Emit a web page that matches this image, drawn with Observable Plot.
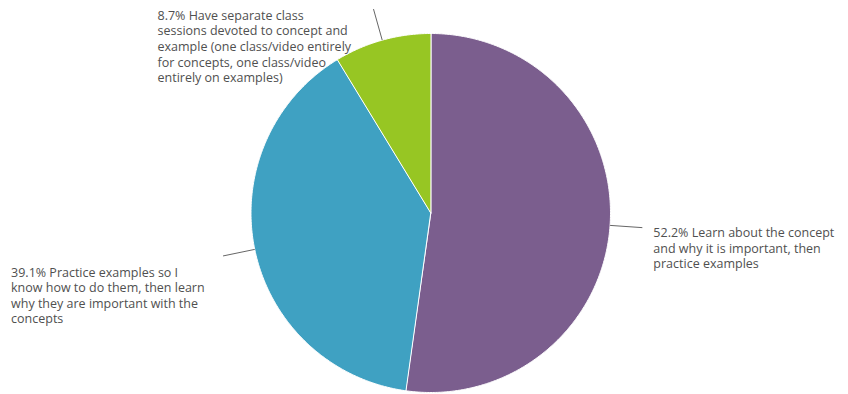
<!DOCTYPE html>
<html>
<head>
<meta charset="utf-8">
<script src="https://cdn.jsdelivr.net/npm/d3@7"></script>
<script src="https://cdn.jsdelivr.net/npm/@observablehq/plot@0.6"></script>
<style>
  body { margin: 0; background: #fff; }
</style>
</head>
<body>
<div id="chart"></div>
<script>
// Survey answers, clockwise from 12 o'clock
const keys = ["Concept first", "Examples first", "Separate sessions"];
const shares = [52.2, 39.1, 8.7];
const answers = [
  "Learn about the concept\nand why it is important, then\npractice examples",
  "Practice examples so I\nknow how to do them, then learn\nwhy they are important with the\nconcepts",
  "Have separate class\nsessions devoted to concept and\nexample (one class/video entirely\nfor concepts, one class/video\nentirely on examples)"
];
const colors = ["#7b5e8e", "#3fa1c2", "#97c623"];

const rows = keys.map((key, i) => ({key, share: shares[i], label: `${shares[i]}% ${answers[i]}`}));

// Slice angles (clockwise from top)
const arcs = d3.pie().sort(null).value(d => d.share)(rows);

// Closed outline of every slice: centre, then along the rim
const outline = arcs.flatMap(a => {
  const n = Math.max(2, Math.ceil((a.endAngle - a.startAngle) / (Math.PI / 360)));
  const pts = [{key: a.data.key, x: 0, y: 0}];
  for (let i = 0; i <= n; i++) {
    const t = a.startAngle + (a.endAngle - a.startAngle) * i / n;
    pts.push({key: a.data.key, x: Math.sin(t), y: Math.cos(t)});
  }
  return pts;
});

// Leader lines leave the rim at each slice's middle angle
const leaders = arcs.map(a => {
  const m = (a.startAngle + a.endAngle) / 2;
  return {
    key: a.data.key, label: a.data.label,
    x1: Math.sin(m), y1: Math.cos(m),
    x2: 1.18 * Math.sin(m), y2: 1.18 * Math.cos(m)
  };
});

const textStyle = {
  x: "x2", y: "y2", text: "label",
  textAnchor: "start", lineAnchor: "middle",
  lineHeight: 1.25, fill: "#505050", stroke: "white", strokeWidth: 2
};

const chart = Plot.plot({
  width: 848,
  height: 394,
  marginLeft: 250.5,
  marginRight: 238,
  marginTop: 33,
  marginBottom: 2,
  x: {domain: [-1, 1], axis: null},
  y: {domain: [-1, 1], axis: null},
  color: {domain: keys, range: colors},
  style: {fontFamily: "'Open Sans', sans-serif", fontSize: "12.5px", background: "#fff"},
  marks: [
    Plot.line(outline, {x: "x", y: "y", z: "key", fill: "key", stroke: "white", strokeWidth: 1, curve: "linear-closed"}),
    Plot.link(leaders, {x1: "x1", y1: "y1", x2: "x2", y2: "y2", stroke: "#666", strokeWidth: 1}),
    Plot.text(leaders.filter(d => d.key === keys[0]), {...textStyle, dx: 11, dy: 20}),
    Plot.text(leaders.filter(d => d.key === keys[1]), {...textStyle, dx: -212, dy: 39}),
    Plot.text(leaders.filter(d => d.key === keys[2]), {...textStyle, dx: -216, dy: 37})
  ]
});

document.getElementById("chart").append(chart);
</script>
</body>
</html>
